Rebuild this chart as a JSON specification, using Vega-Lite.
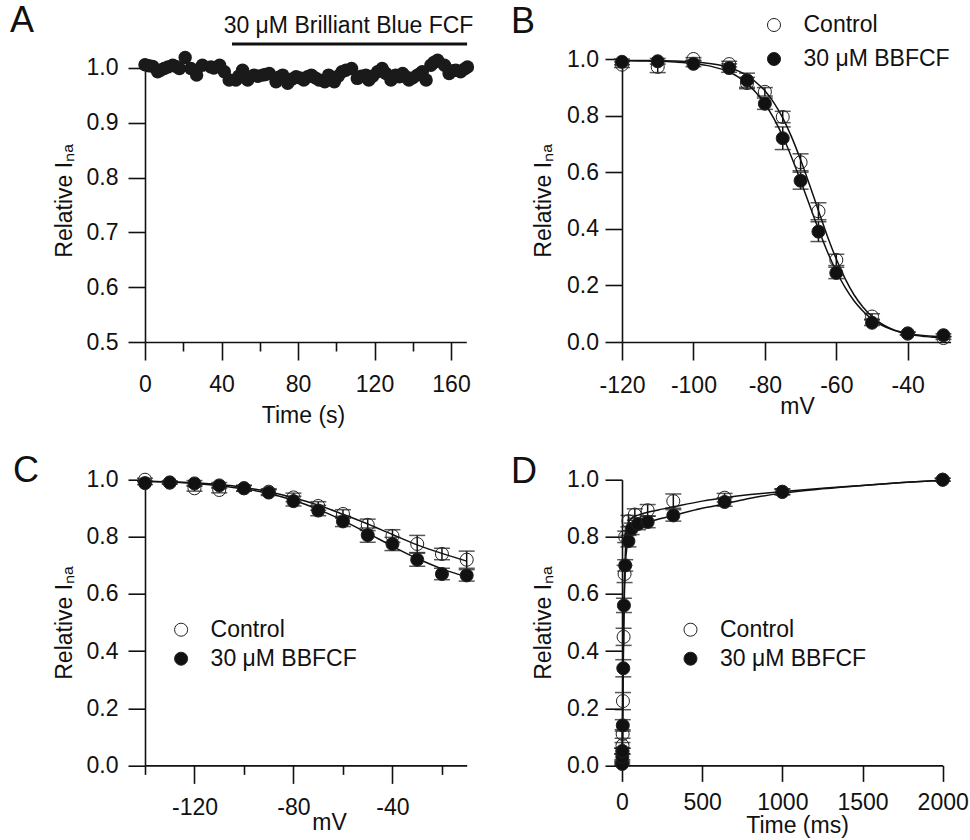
{
  "$schema": "https://vega.github.io/schema/vega-lite/v6.json",
  "background": "white",
  "padding": {"left": 10, "top": 2, "right": 5, "bottom": 5},
  "config": {
    "font": "Liberation Sans",
    "view": {"stroke": null},
    "axis": {"grid": false, "domainColor": "#111", "domainWidth": 1.6, "tickColor": "#111", "tickWidth": 1.6, "tickSize": 17,
      "labelFont": "Liberation Sans", "labelFontSize": 23, "labelColor": "#111", "labelPadding": 8,
      "titleFont": "Liberation Sans", "titleFontSize": 23, "titleFontWeight": "normal", "titleColor": "#111",
      "labelFlush": false, "labelOverlap": false},
    "legend": {"title": null, "orient": "none", "symbolType": "circle", "symbolSize": 170, "symbolStrokeColor": "#222", "symbolStrokeWidth": 1, "symbolOpacity": 1,
      "labelFont": "Liberation Sans", "labelFontSize": 23, "labelColor": "#111", "labelOffset": 18, "padding": 0, "labelLimit": 400},
    "title": {"font": "Liberation Sans", "fontSize": 36, "fontWeight": "normal", "color": "#111", "anchor": "start", "frame": "group"}
  },
  "datasets": {
    "a": [
      {"t": 0, "v": 1.006}, {"t": 2, "v": 1.004}, {"t": 4, "v": 1.003}, {"t": 6.6, "v": 0.993}, {"t": 8, "v": 0.996},
      {"t": 10, "v": 0.999}, {"t": 12, "v": 1.002}, {"t": 14.5, "v": 1.005}, {"t": 16, "v": 1.003}, {"t": 18, "v": 0.999},
      {"t": 21, "v": 1.019}, {"t": 24, "v": 0.999}, {"t": 27, "v": 0.987}, {"t": 30, "v": 1.005}, {"t": 34.5, "v": 1.002},
      {"t": 36, "v": 1.0}, {"t": 39, "v": 1.005}, {"t": 41.5, "v": 0.993}, {"t": 44, "v": 0.978}, {"t": 47.5, "v": 0.978},
      {"t": 49, "v": 0.985}, {"t": 51, "v": 0.996}, {"t": 53.7, "v": 0.978}, {"t": 57, "v": 0.987}, {"t": 59, "v": 0.985},
      {"t": 61.5, "v": 0.987}, {"t": 63, "v": 0.988}, {"t": 65, "v": 0.99}, {"t": 68.5, "v": 0.975}, {"t": 70, "v": 0.983},
      {"t": 72, "v": 0.987}, {"t": 74.6, "v": 0.972}, {"t": 77, "v": 0.98}, {"t": 79, "v": 0.984}, {"t": 81, "v": 0.982},
      {"t": 83, "v": 0.978}, {"t": 85, "v": 0.984}, {"t": 87, "v": 0.987}, {"t": 89, "v": 0.982}, {"t": 91, "v": 0.978},
      {"t": 94, "v": 0.975}, {"t": 96, "v": 0.987}, {"t": 99, "v": 0.975}, {"t": 101, "v": 0.985}, {"t": 103, "v": 0.993},
      {"t": 105, "v": 0.996}, {"t": 108, "v": 0.999}, {"t": 111, "v": 0.981}, {"t": 113, "v": 0.985}, {"t": 115.5, "v": 0.987},
      {"t": 117, "v": 0.978}, {"t": 119, "v": 0.985}, {"t": 121.6, "v": 0.993}, {"t": 124, "v": 0.999}, {"t": 126, "v": 0.99},
      {"t": 128.6, "v": 0.978}, {"t": 131, "v": 0.987}, {"t": 133, "v": 0.984}, {"t": 134.7, "v": 0.99}, {"t": 136, "v": 0.985},
      {"t": 138, "v": 0.978}, {"t": 140, "v": 0.982}, {"t": 142.5, "v": 0.987}, {"t": 144, "v": 0.99}, {"t": 145, "v": 0.993},
      {"t": 147, "v": 0.978}, {"t": 149.5, "v": 1.005}, {"t": 151, "v": 1.01}, {"t": 153, "v": 1.014}, {"t": 156.6, "v": 1.005},
      {"t": 159, "v": 0.99}, {"t": 161, "v": 0.995}, {"t": 162.5, "v": 0.996}, {"t": 165, "v": 0.993}, {"t": 167, "v": 0.998},
      {"t": 168.6, "v": 1.002}
    ],
    "b": [
      {"mV": -120, "group": "Control", "val": 0.98, "err": 0.01},
      {"mV": -110, "group": "Control", "val": 0.972, "err": 0.02},
      {"mV": -100, "group": "Control", "val": 1.0, "err": 0.005},
      {"mV": -90, "group": "Control", "val": 0.982, "err": 0.01},
      {"mV": -85, "group": "Control", "val": 0.915, "err": 0.02},
      {"mV": -80, "group": "Control", "val": 0.884, "err": 0.015},
      {"mV": -75, "group": "Control", "val": 0.795, "err": 0.02},
      {"mV": -70, "group": "Control", "val": 0.635, "err": 0.03},
      {"mV": -65, "group": "Control", "val": 0.462, "err": 0.03},
      {"mV": -60, "group": "Control", "val": 0.29, "err": 0.02},
      {"mV": -50, "group": "Control", "val": 0.09, "err": 0.01},
      {"mV": -40, "group": "Control", "val": 0.03, "err": 0.005},
      {"mV": -30, "group": "Control", "val": 0.014, "err": 0.005},
      {"mV": -120, "group": "30 μM BBFCF", "val": 0.99, "err": 0.01},
      {"mV": -110, "group": "30 μM BBFCF", "val": 0.992, "err": 0.01},
      {"mV": -100, "group": "30 μM BBFCF", "val": 0.983, "err": 0.01},
      {"mV": -90, "group": "30 μM BBFCF", "val": 0.968, "err": 0.015},
      {"mV": -85, "group": "30 μM BBFCF", "val": 0.925, "err": 0.025},
      {"mV": -80, "group": "30 μM BBFCF", "val": 0.842, "err": 0.02},
      {"mV": -75, "group": "30 μM BBFCF", "val": 0.72, "err": 0.04},
      {"mV": -70, "group": "30 μM BBFCF", "val": 0.57, "err": 0.03},
      {"mV": -65, "group": "30 μM BBFCF", "val": 0.39, "err": 0.035},
      {"mV": -60, "group": "30 μM BBFCF", "val": 0.244, "err": 0.02},
      {"mV": -50, "group": "30 μM BBFCF", "val": 0.068, "err": 0.01},
      {"mV": -40, "group": "30 μM BBFCF", "val": 0.03, "err": 0.005},
      {"mV": -30, "group": "30 μM BBFCF", "val": 0.024, "err": 0.005}
    ],
    "bfit": [
      {"mV": -120, "group": "Control", "val": 0.995}, {"mV": -115, "group": "Control", "val": 0.995}, {"mV": -110, "group": "Control", "val": 0.994},
      {"mV": -105, "group": "Control", "val": 0.993}, {"mV": -100, "group": "Control", "val": 0.99}, {"mV": -95, "group": "Control", "val": 0.983},
      {"mV": -90, "group": "Control", "val": 0.97}, {"mV": -87.5, "group": "Control", "val": 0.958}, {"mV": -85, "group": "Control", "val": 0.942},
      {"mV": -82.5, "group": "Control", "val": 0.918}, {"mV": -80, "group": "Control", "val": 0.888}, {"mV": -77.5, "group": "Control", "val": 0.846},
      {"mV": -75, "group": "Control", "val": 0.792}, {"mV": -72.5, "group": "Control", "val": 0.724}, {"mV": -70, "group": "Control", "val": 0.644},
      {"mV": -67.5, "group": "Control", "val": 0.556}, {"mV": -65, "group": "Control", "val": 0.464}, {"mV": -62.5, "group": "Control", "val": 0.374},
      {"mV": -60, "group": "Control", "val": 0.293}, {"mV": -57.5, "group": "Control", "val": 0.223}, {"mV": -55, "group": "Control", "val": 0.166},
      {"mV": -52.5, "group": "Control", "val": 0.123}, {"mV": -50, "group": "Control", "val": 0.09}, {"mV": -47.5, "group": "Control", "val": 0.066},
      {"mV": -45, "group": "Control", "val": 0.049}, {"mV": -42.5, "group": "Control", "val": 0.036}, {"mV": -40, "group": "Control", "val": 0.028},
      {"mV": -35, "group": "Control", "val": 0.019}, {"mV": -30, "group": "Control", "val": 0.014},
      {"mV": -120, "group": "30 μM BBFCF", "val": 0.994}, {"mV": -115, "group": "30 μM BBFCF", "val": 0.993}, {"mV": -110, "group": "30 μM BBFCF", "val": 0.992},
      {"mV": -105, "group": "30 μM BBFCF", "val": 0.989}, {"mV": -100, "group": "30 μM BBFCF", "val": 0.984}, {"mV": -95, "group": "30 μM BBFCF", "val": 0.974},
      {"mV": -90, "group": "30 μM BBFCF", "val": 0.954}, {"mV": -87.5, "group": "30 μM BBFCF", "val": 0.937}, {"mV": -85, "group": "30 μM BBFCF", "val": 0.913},
      {"mV": -82.5, "group": "30 μM BBFCF", "val": 0.882}, {"mV": -80, "group": "30 μM BBFCF", "val": 0.842}, {"mV": -77.5, "group": "30 μM BBFCF", "val": 0.79},
      {"mV": -75, "group": "30 μM BBFCF", "val": 0.727}, {"mV": -72.5, "group": "30 μM BBFCF", "val": 0.652}, {"mV": -70, "group": "30 μM BBFCF", "val": 0.57},
      {"mV": -67.5, "group": "30 μM BBFCF", "val": 0.484}, {"mV": -65, "group": "30 μM BBFCF", "val": 0.399}, {"mV": -62.5, "group": "30 μM BBFCF", "val": 0.319},
      {"mV": -60, "group": "30 μM BBFCF", "val": 0.25}, {"mV": -57.5, "group": "30 μM BBFCF", "val": 0.192}, {"mV": -55, "group": "30 μM BBFCF", "val": 0.145},
      {"mV": -52.5, "group": "30 μM BBFCF", "val": 0.109}, {"mV": -50, "group": "30 μM BBFCF", "val": 0.081}, {"mV": -47.5, "group": "30 μM BBFCF", "val": 0.061},
      {"mV": -45, "group": "30 μM BBFCF", "val": 0.047}, {"mV": -42.5, "group": "30 μM BBFCF", "val": 0.037}, {"mV": -40, "group": "30 μM BBFCF", "val": 0.03},
      {"mV": -35, "group": "30 μM BBFCF", "val": 0.022}, {"mV": -30, "group": "30 μM BBFCF", "val": 0.019}
    ],
    "c": [
      {"mV": -140, "group": "Control", "val": 1.0, "err": 0.005},
      {"mV": -130, "group": "Control", "val": 0.99, "err": 0.005},
      {"mV": -120, "group": "Control", "val": 0.97, "err": 0.01},
      {"mV": -110, "group": "Control", "val": 0.964, "err": 0.01},
      {"mV": -100, "group": "Control", "val": 0.97, "err": 0.01},
      {"mV": -90, "group": "Control", "val": 0.958, "err": 0.01},
      {"mV": -80, "group": "Control", "val": 0.938, "err": 0.015},
      {"mV": -70, "group": "Control", "val": 0.908, "err": 0.015},
      {"mV": -60, "group": "Control", "val": 0.88, "err": 0.015},
      {"mV": -50, "group": "Control", "val": 0.842, "err": 0.02},
      {"mV": -40, "group": "Control", "val": 0.803, "err": 0.022},
      {"mV": -30, "group": "Control", "val": 0.775, "err": 0.03},
      {"mV": -20, "group": "Control", "val": 0.74, "err": 0.02},
      {"mV": -10, "group": "Control", "val": 0.72, "err": 0.03},
      {"mV": -140, "group": "30 μM BBFCF", "val": 0.988, "err": 0.005},
      {"mV": -130, "group": "30 μM BBFCF", "val": 0.99, "err": 0.005},
      {"mV": -120, "group": "30 μM BBFCF", "val": 0.987, "err": 0.01},
      {"mV": -110, "group": "30 μM BBFCF", "val": 0.98, "err": 0.01},
      {"mV": -100, "group": "30 μM BBFCF", "val": 0.97, "err": 0.01},
      {"mV": -90, "group": "30 μM BBFCF", "val": 0.955, "err": 0.01},
      {"mV": -80, "group": "30 μM BBFCF", "val": 0.925, "err": 0.017},
      {"mV": -70, "group": "30 μM BBFCF", "val": 0.892, "err": 0.018},
      {"mV": -60, "group": "30 μM BBFCF", "val": 0.854, "err": 0.018},
      {"mV": -50, "group": "30 μM BBFCF", "val": 0.806, "err": 0.025},
      {"mV": -40, "group": "30 μM BBFCF", "val": 0.775, "err": 0.023},
      {"mV": -30, "group": "30 μM BBFCF", "val": 0.72, "err": 0.023},
      {"mV": -20, "group": "30 μM BBFCF", "val": 0.67, "err": 0.02},
      {"mV": -10, "group": "30 μM BBFCF", "val": 0.665, "err": 0.02}
    ],
    "cfit": [
      {"mV": -140, "group": "Control", "val": 0.995}, {"mV": -130, "group": "Control", "val": 0.993}, {"mV": -120, "group": "Control", "val": 0.989},
      {"mV": -110, "group": "Control", "val": 0.983}, {"mV": -100, "group": "Control", "val": 0.973}, {"mV": -90, "group": "Control", "val": 0.958},
      {"mV": -80, "group": "Control", "val": 0.937}, {"mV": -70, "group": "Control", "val": 0.911}, {"mV": -60, "group": "Control", "val": 0.879},
      {"mV": -50, "group": "Control", "val": 0.845}, {"mV": -40, "group": "Control", "val": 0.808}, {"mV": -30, "group": "Control", "val": 0.772},
      {"mV": -20, "group": "Control", "val": 0.742}, {"mV": -10, "group": "Control", "val": 0.715},
      {"mV": -140, "group": "30 μM BBFCF", "val": 0.995}, {"mV": -130, "group": "30 μM BBFCF", "val": 0.992}, {"mV": -120, "group": "30 μM BBFCF", "val": 0.987},
      {"mV": -110, "group": "30 μM BBFCF", "val": 0.979}, {"mV": -100, "group": "30 μM BBFCF", "val": 0.968}, {"mV": -90, "group": "30 μM BBFCF", "val": 0.952},
      {"mV": -80, "group": "30 μM BBFCF", "val": 0.928}, {"mV": -70, "group": "30 μM BBFCF", "val": 0.896}, {"mV": -60, "group": "30 μM BBFCF", "val": 0.857},
      {"mV": -50, "group": "30 μM BBFCF", "val": 0.813}, {"mV": -40, "group": "30 μM BBFCF", "val": 0.767}, {"mV": -30, "group": "30 μM BBFCF", "val": 0.724},
      {"mV": -20, "group": "30 μM BBFCF", "val": 0.688}, {"mV": -10, "group": "30 μM BBFCF", "val": 0.66}
    ],
    "d": [
      {"ms": 1, "group": "Control", "val": 0.01, "err": 0.005},
      {"ms": 2, "group": "Control", "val": 0.05, "err": 0.01},
      {"ms": 3, "group": "Control", "val": 0.07, "err": 0.01},
      {"ms": 4, "group": "Control", "val": 0.11, "err": 0.015},
      {"ms": 6, "group": "Control", "val": 0.225, "err": 0.03},
      {"ms": 10, "group": "Control", "val": 0.45, "err": 0.03},
      {"ms": 16, "group": "Control", "val": 0.67, "err": 0.03},
      {"ms": 20, "group": "Control", "val": 0.8, "err": 0.02},
      {"ms": 40, "group": "Control", "val": 0.855, "err": 0.02},
      {"ms": 80, "group": "Control", "val": 0.878, "err": 0.02},
      {"ms": 160, "group": "Control", "val": 0.893, "err": 0.02},
      {"ms": 320, "group": "Control", "val": 0.925, "err": 0.025},
      {"ms": 640, "group": "Control", "val": 0.937, "err": 0.015},
      {"ms": 1000, "group": "Control", "val": 0.958, "err": 0.01},
      {"ms": 2000, "group": "Control", "val": 1.0, "err": 0.005},
      {"ms": 1, "group": "30 μM BBFCF", "val": 0.005, "err": 0.005},
      {"ms": 2, "group": "30 μM BBFCF", "val": 0.03, "err": 0.01},
      {"ms": 3, "group": "30 μM BBFCF", "val": 0.05, "err": 0.01},
      {"ms": 5, "group": "30 μM BBFCF", "val": 0.14, "err": 0.02},
      {"ms": 8, "group": "30 μM BBFCF", "val": 0.34, "err": 0.03},
      {"ms": 12, "group": "30 μM BBFCF", "val": 0.56, "err": 0.025},
      {"ms": 20, "group": "30 μM BBFCF", "val": 0.7, "err": 0.02},
      {"ms": 40, "group": "30 μM BBFCF", "val": 0.785, "err": 0.02},
      {"ms": 60, "group": "30 μM BBFCF", "val": 0.828, "err": 0.02},
      {"ms": 100, "group": "30 μM BBFCF", "val": 0.845, "err": 0.02},
      {"ms": 160, "group": "30 μM BBFCF", "val": 0.852, "err": 0.02},
      {"ms": 320, "group": "30 μM BBFCF", "val": 0.875, "err": 0.02},
      {"ms": 640, "group": "30 μM BBFCF", "val": 0.922, "err": 0.015},
      {"ms": 1000, "group": "30 μM BBFCF", "val": 0.957, "err": 0.01},
      {"ms": 2000, "group": "30 μM BBFCF", "val": 1.0, "err": 0.005}
    ],
    "dfit": [
      {"ms": 0, "group": "Control", "val": 0.0}, {"ms": 5, "group": "Control", "val": 0.25}, {"ms": 10, "group": "Control", "val": 0.48},
      {"ms": 15, "group": "Control", "val": 0.63}, {"ms": 20, "group": "Control", "val": 0.73}, {"ms": 30, "group": "Control", "val": 0.82},
      {"ms": 40, "group": "Control", "val": 0.85}, {"ms": 60, "group": "Control", "val": 0.865}, {"ms": 100, "group": "Control", "val": 0.876},
      {"ms": 160, "group": "Control", "val": 0.886}, {"ms": 250, "group": "Control", "val": 0.897}, {"ms": 320, "group": "Control", "val": 0.905},
      {"ms": 500, "group": "Control", "val": 0.925}, {"ms": 640, "group": "Control", "val": 0.937}, {"ms": 800, "group": "Control", "val": 0.948},
      {"ms": 1000, "group": "Control", "val": 0.958}, {"ms": 1250, "group": "Control", "val": 0.97}, {"ms": 1500, "group": "Control", "val": 0.98},
      {"ms": 1750, "group": "Control", "val": 0.99}, {"ms": 2000, "group": "Control", "val": 0.998},
      {"ms": 0, "group": "30 μM BBFCF", "val": 0.0}, {"ms": 5, "group": "30 μM BBFCF", "val": 0.18}, {"ms": 10, "group": "30 μM BBFCF", "val": 0.45},
      {"ms": 15, "group": "30 μM BBFCF", "val": 0.6}, {"ms": 20, "group": "30 μM BBFCF", "val": 0.69}, {"ms": 30, "group": "30 μM BBFCF", "val": 0.76},
      {"ms": 40, "group": "30 μM BBFCF", "val": 0.79}, {"ms": 60, "group": "30 μM BBFCF", "val": 0.815}, {"ms": 100, "group": "30 μM BBFCF", "val": 0.835},
      {"ms": 160, "group": "30 μM BBFCF", "val": 0.85}, {"ms": 250, "group": "30 μM BBFCF", "val": 0.865}, {"ms": 320, "group": "30 μM BBFCF", "val": 0.875},
      {"ms": 500, "group": "30 μM BBFCF", "val": 0.9}, {"ms": 640, "group": "30 μM BBFCF", "val": 0.915}, {"ms": 800, "group": "30 μM BBFCF", "val": 0.935},
      {"ms": 1000, "group": "30 μM BBFCF", "val": 0.953}, {"ms": 1250, "group": "30 μM BBFCF", "val": 0.968}, {"ms": 1500, "group": "30 μM BBFCF", "val": 0.98},
      {"ms": 1750, "group": "30 μM BBFCF", "val": 0.99}, {"ms": 2000, "group": "30 μM BBFCF", "val": 0.998}
    ],
    "ann": [
      {"s": 45.5, "e": 168.4, "y": 1.0438, "tx": 106.4, "ty": 1.064, "label": "30 μM Brilliant Blue FCF"}
    ]
  },
  "columns": 2,
  "spacing": {"row": 137.7, "column": 155},
  "bounds": "flush",
  "resolve": {"scale": {"fill": "independent"}, "legend": {"fill": "independent"}},
  "concat": [
    {
      "width": 321.3, "height": 283,
      "title": {"text": "A", "dx": -135, "dy": 29},
      "layer": [
        {
          "data": {"name": "a"},
          "mark": {"type": "circle", "size": 180, "color": "#1a1a1a", "opacity": 1},
          "encoding": {
            "x": {"field": "t", "type": "quantitative", "scale": {"domain": [0, 168], "nice": false, "zero": false},
              "axis": {"values": [0, 20, 40, 60, 80, 100, 120, 140, 160], "title": "Time (s)",
                "labelExpr": "datum.value % 40 === 0 ? datum.value + '' : ''",
                "tickSize": {"condition": {"test": "datum.value % 40 === 0", "value": 18}, "value": 9},
                "labelPadding": 13, "titleX": 158, "titleY": 80, "titleBaseline": "alphabetic"}},
            "y": {"field": "v", "type": "quantitative", "scale": {"domain": [0.5, 1.0164], "nice": false, "zero": false},
              "axis": {"values": [0.5, 0.6, 0.7, 0.8, 0.9, 1.0], "format": ".1f", "title": "Relative Iₙₐ", "labelPadding": 10, "titlePadding": 10}}
          }
        },
        {
          "data": {"name": "ann"},
          "mark": {"type": "rule", "strokeWidth": 3.2, "color": "#111"},
          "encoding": {
            "x": {"field": "s", "type": "quantitative"},
            "x2": {"field": "e"},
            "y": {"field": "y", "type": "quantitative"}
          }
        },
        {
          "data": {"name": "ann"},
          "mark": {"type": "text", "fontSize": 23, "align": "center", "baseline": "alphabetic", "color": "#111", "font": "Liberation Sans"},
          "encoding": {
            "x": {"field": "tx", "type": "quantitative"},
            "y": {"field": "ty", "type": "quantitative"},
            "text": {"field": "label"}
          }
        }
      ]
    },
    {
      "width": 328.6, "height": 283,
      "title": {"text": "B", "dx": -111, "dy": 31},
      "layer": [
        {
          "data": {"name": "bfit"},
          "mark": {"type": "line", "color": "#111", "strokeWidth": 1.5, "interpolate": "monotone"},
          "encoding": {
            "x": {"field": "mV", "type": "quantitative", "scale": {"domain": [-120, -28], "nice": false, "zero": false},
              "axis": {"values": [-120, -100, -80, -60, -40], "labelExpr": "datum.value + ''", "title": "mV", "tickSize": 18,
                "labelPadding": 14, "titleX": 175, "titleY": 71, "titleBaseline": "alphabetic"}},
            "y": {"field": "val", "type": "quantitative", "scale": {"domain": [0, 1], "nice": false},
              "axis": {"values": [0, 0.2, 0.4, 0.6, 0.8, 1.0], "format": ".1f", "title": "Relative Iₙₐ", "labelPadding": 6.5, "titlePadding": 11}},
            "detail": {"field": "group"}
          }
        },
        {
          "data": {"name": "b"},
          "mark": {"type": "errorbar", "ticks": {"size": 16}, "thickness": 1.5, "color": "#111"},
          "encoding": {
            "x": {"field": "mV", "type": "quantitative", "title": "mV"},
            "y": {"field": "val", "type": "quantitative", "title": "Relative Iₙₐ"},
            "yError": {"field": "err"}
          }
        },
        {
          "data": {"name": "b"},
          "mark": {"type": "point", "shape": "circle", "filled": true, "size": 170, "stroke": "#222", "strokeWidth": 1, "opacity": 1},
          "encoding": {
            "x": {"field": "mV", "type": "quantitative", "title": "mV"},
            "y": {"field": "val", "type": "quantitative", "title": "Relative Iₙₐ"},
            "fill": {"field": "group", "type": "nominal", "sort": null,
              "scale": {"domain": ["Control", "30 μM BBFCF"], "range": ["transparent", "#111"]},
              "legend": {"legendX": 140.5, "legendY": -45.5, "rowPadding": 10}}
          }
        }
      ]
    },
    {
      "width": 321.7, "height": 285.7,
      "title": {"text": "C", "dx": -132, "dy": 25},
      "layer": [
        {
          "data": {"name": "cfit"},
          "mark": {"type": "line", "color": "#111", "strokeWidth": 1.5, "interpolate": "monotone"},
          "encoding": {
            "x": {"field": "mV", "type": "quantitative", "scale": {"domain": [-140, -10], "nice": false, "zero": false},
              "axis": {"values": [-140, -120, -100, -80, -60, -40, -20], "title": "mV",
                "labelExpr": "datum.value % 40 === 0 ? datum.value + '' : ''",
                "tickSize": {"condition": {"test": "datum.value % 40 === 0", "value": 18}, "value": 9},
                "labelPadding": 13, "titleX": 184, "titleY": 64, "titleBaseline": "alphabetic"}},
            "y": {"field": "val", "type": "quantitative", "scale": {"domain": [0, 1], "nice": false},
              "axis": {"values": [0, 0.2, 0.4, 0.6, 0.8, 1.0], "format": ".1f", "title": "Relative Iₙₐ", "labelPadding": 10, "titlePadding": 10}},
            "detail": {"field": "group"}
          }
        },
        {
          "data": {"name": "c"},
          "mark": {"type": "errorbar", "ticks": {"size": 16}, "thickness": 1.5, "color": "#111"},
          "encoding": {
            "x": {"field": "mV", "type": "quantitative", "title": "mV"},
            "y": {"field": "val", "type": "quantitative", "title": "Relative Iₙₐ"},
            "yError": {"field": "err"}
          }
        },
        {
          "data": {"name": "c"},
          "mark": {"type": "point", "shape": "circle", "filled": true, "size": 170, "stroke": "#222", "strokeWidth": 1, "opacity": 1},
          "encoding": {
            "x": {"field": "mV", "type": "quantitative", "title": "mV"},
            "y": {"field": "val", "type": "quantitative", "title": "Relative Iₙₐ"},
            "fill": {"field": "group", "type": "nominal", "sort": null,
              "scale": {"domain": ["Control", "30 μM BBFCF"], "range": ["transparent", "#111"]},
              "legend": {"legendX": 24.6, "legendY": 138.5, "rowPadding": 5}}
          }
        }
      ]
    },
    {
      "width": 320.7, "height": 285.7,
      "title": {"text": "D", "dx": -111, "dy": 26},
      "layer": [
        {
          "data": {"name": "dfit"},
          "mark": {"type": "line", "color": "#111", "strokeWidth": 1.5, "interpolate": "monotone"},
          "encoding": {
            "x": {"field": "ms", "type": "quantitative", "scale": {"domain": [0, 2000], "nice": false, "zero": false},
              "axis": {"values": [0, 500, 1000, 1500, 2000], "format": "d", "title": "Time (ms)", "tickSize": 16,
                "labelPadding": 10, "titleX": 175, "titleY": 67, "titleBaseline": "alphabetic"}},
            "y": {"field": "val", "type": "quantitative", "scale": {"domain": [0, 1], "nice": false},
              "axis": {"values": [0, 0.2, 0.4, 0.6, 0.8, 1.0], "format": ".1f", "title": "Relative Iₙₐ", "labelPadding": 6.5, "titlePadding": 11}},
            "detail": {"field": "group"}
          }
        },
        {
          "data": {"name": "d"},
          "mark": {"type": "errorbar", "ticks": {"size": 16}, "thickness": 1.5, "color": "#111"},
          "encoding": {
            "x": {"field": "ms", "type": "quantitative", "title": "Time (ms)"},
            "y": {"field": "val", "type": "quantitative", "title": "Relative Iₙₐ"},
            "yError": {"field": "err"}
          }
        },
        {
          "data": {"name": "d"},
          "mark": {"type": "point", "shape": "circle", "filled": true, "size": 170, "stroke": "#222", "strokeWidth": 1, "opacity": 1},
          "encoding": {
            "x": {"field": "ms", "type": "quantitative", "title": "Time (ms)"},
            "y": {"field": "val", "type": "quantitative", "title": "Relative Iₙₐ"},
            "fill": {"field": "group", "type": "nominal", "sort": null,
              "scale": {"domain": ["Control", "30 μM BBFCF"], "range": ["transparent", "#111"]},
              "legend": {"legendX": 57, "legendY": 138.5, "rowPadding": 5}}
          }
        }
      ]
    }
  ]
}
